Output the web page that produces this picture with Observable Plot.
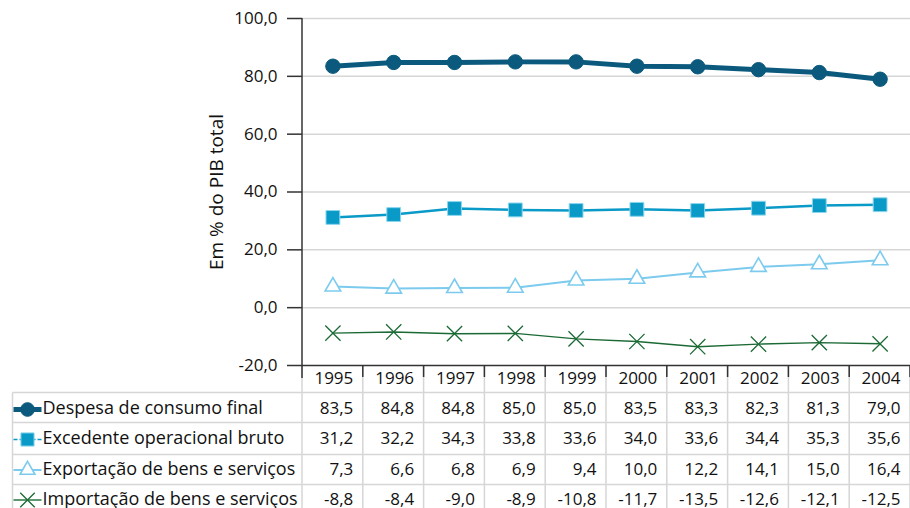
<!DOCTYPE html>
<html>
<head>
<meta charset="utf-8">
<script src="https://cdn.jsdelivr.net/npm/d3@7"></script>
<script src="https://cdn.jsdelivr.net/npm/@observablehq/plot@0.6"></script>
<style>
  html, body { margin: 0; padding: 0; background: #fff; overflow: hidden; }
  #wrap { position: relative; width: 910px; height: 508px; overflow: hidden; }
  #title { position: absolute; left: 81px; top: -18px; font: bold 16px "Open Sans", sans-serif; white-space: nowrap; color: #222; }
  #chart { position: absolute; left: 0; top: 0; }
</style>
</head>
<body>
<div id="wrap">
  <div id="title">Composição segundo a ótica da renda e da despesa, Brasil, 1995-2004</div>
  <div id="chart"></div>
</div>
<script>
// ---- data ----
const years = [1995, 1996, 1997, 1998, 1999, 2000, 2001, 2002, 2003, 2004];
const seriesNames = [
  "Despesa de consumo final",
  "Excedente operacional bruto",
  "Exportação de bens e serviços",
  "Importação de bens e serviços"
];
const despesa    = [83.5, 84.8, 84.8, 85.0, 85.0, 83.5, 83.3, 82.3, 81.3, 79.0];
const excedente  = [31.2, 32.2, 34.3, 33.8, 33.6, 34.0, 33.6, 34.4, 35.3, 35.6];
const exportacao = [7.3, 6.6, 6.8, 6.9, 9.4, 10.0, 12.2, 14.1, 15.0, 16.4];
const importacao = [-8.8, -8.4, -9.0, -8.9, -10.8, -11.7, -13.5, -12.6, -12.1, -12.5];
const yTicks = [-20, 0, 20, 40, 60, 80, 100];
const yLabel = "Em % do PIB total";

// ---- styles ----
const styles = [
  {values: despesa,    color: "#0b5a7e", lineW: 5,   symbol: "circle",   r: 7.2, fill: "#0b5a7e", stroke: "#0b5a7e", sw: 1,   legendDash: null},
  {values: excedente,  color: "#0a9ac7", lineW: 2.5, symbol: "square",   r: 7.8, fill: "#0a9ac7", stroke: "#8ad6ef", sw: 1,   legendDash: "4,2"},
  {values: exportacao, color: "#7ccbee", lineW: 2,   symbol: "triangle", r: 5.8, fill: "#ffffff", stroke: "#7ccbee", sw: 1.6, legendDash: null},
  {values: importacao, color: "#1b6a35", lineW: 1.4, symbol: "times",    r: 7,   fill: "none",    stroke: "#1b6a35", sw: 1.3, legendDash: null}
];

const locale = d3.formatLocale({decimal: ",", thousands: ".", grouping: [3], currency: ["", ""], minus: "-"});
const fmt = locale.format(".1f");

const W = 910, H = 508;
const mL = 302, mR = 0, mT = 18, mB = 143;
const fs = 17;
const fsLabel = 18;
const fsAxisLabel = 19;
const textColor = "#111";
const textShift = 4.5;
const headerDy = 14;
const rowDy = [44, 74, 104.5, 134.5];
const rowLines = [27.5, 57.5, 89.5, 119.5, 150];

const lineSymbol = {
  draw(ctx) { ctx.moveTo(-14, 0); ctx.lineTo(14, 0); }
};

const marks = [
  Plot.gridY(yTicks.filter(v => v > yTicks[0]), {stroke: "#d6d6d6", strokeOpacity: 1, strokeWidth: 1.5}),
  Plot.axisY(yTicks, {
    tickSize: 15, tickPadding: 10, tickFormat: fmt, fontSize: fs, stroke: "#333", strokeWidth: 1.5,
    fill: textColor, label: yLabel, labelAnchor: "center", labelOffset: 93, labelArrow: "none"
  }),
  Plot.ruleY([yTicks[0]], {stroke: "#333", strokeWidth: 1.5}),
  // year header
  Plot.text(years, {x: d => d + 0.5, frameAnchor: "bottom", dy: headerDy + textShift, dx: -10, textAnchor: "end",
    text: d => String(d), fontSize: fs, fill: textColor})
];

styles.forEach((s, k) => {
  const data = years.map((yr, i) => ({year: yr, value: s.values[i]}));
  marks.push(Plot.line(data, {x: "year", y: "value", stroke: s.color, strokeWidth: s.lineW}));
  marks.push(Plot.dot(data, {x: "year", y: "value", symbol: s.symbol, r: s.r, fill: s.fill, stroke: s.stroke, strokeWidth: s.sw}));
  // table values
  marks.push(Plot.text(data, {x: d => d.year + 0.5, frameAnchor: "bottom", dy: rowDy[k] + textShift, dx: -10, textAnchor: "end",
    text: d => fmt(d.value), fontSize: fs, fill: textColor}));
  // legend label
  marks.push(Plot.text([seriesNames[k]], {frameAnchor: "bottom-left", dx: 42 - mL, dy: rowDy[k] + textShift, textAnchor: "start",
    text: d => d, fontSize: fsLabel, fill: textColor}));
  // legend swatch line + marker
  marks.push(Plot.dot([0], {frameAnchor: "bottom-left", dx: 27 - mL, dy: rowDy[k], symbol: lineSymbol, r: 5,
    stroke: s.color, strokeWidth: k === 0 ? 5 : (k === 1 ? 1.5 : s.lineW), strokeDasharray: s.legendDash, fill: "none"}));
  marks.push(Plot.dot([0], {frameAnchor: "bottom-left", dx: 27 - mL, dy: rowDy[k], symbol: s.symbol, r: s.r * 0.95,
    fill: s.fill, stroke: s.stroke, strokeWidth: s.sw}));
});

const plot = Plot.plot({
  width: W, height: H,
  marginLeft: mL, marginRight: mR, marginTop: mT, marginBottom: mB,
  style: {fontFamily: "'Open Sans', sans-serif", fontSize: fsLabel + "px", color: textColor, background: "#fff"},
  x: {type: "linear", domain: [years[0] - 0.5, years[years.length - 1] + 0.5], axis: null},
  y: {domain: [yTicks[0], yTicks[yTicks.length - 1]]},
  marks
});
document.getElementById("chart").appendChild(plot);

// axis label: ensure plain text (no arrow) and slightly larger size
d3.select(plot).selectAll("text").each(function() {
  const t = this.textContent;
  if (t.includes(yLabel)) {
    if (t !== yLabel) this.textContent = yLabel;
    d3.select(this).attr("font-size", fsAxisLabel).style("font-size", fsAxisLabel + "px");
  }
});

// ---- table grid (drawn with the plot's own scales) ----
const xs = plot.scale("x"), ys = plot.scale("y");
const svg = d3.select(plot);
const bottom = ys.apply(yTicks[0]);
const g = svg.insert("g", ":first-child").attr("class", "table-grid");
const gridColor = "#d6d6d6";
const bounds = [years[0] - 0.5, ...years.map(y => y + 0.5)];
rowLines.forEach(o => {
  g.append("line").attr("x1", 12.5).attr("x2", W).attr("y1", bottom + o).attr("y2", bottom + o)
    .attr("stroke", gridColor).attr("stroke-width", 1.5);
});
g.append("line").attr("x1", 12.5).attr("x2", 12.5).attr("y1", bottom + rowLines[0]).attr("y2", H)
  .attr("stroke", gridColor).attr("stroke-width", 1.5);
bounds.forEach(b => {
  g.append("line").attr("x1", xs.apply(b)).attr("x2", xs.apply(b)).attr("y1", bottom).attr("y2", H)
    .attr("stroke", gridColor).attr("stroke-width", 1.5);
});
const g2 = svg.append("g").attr("class", "axis-lines");
g2.append("line").attr("x1", xs.apply(bounds[0])).attr("x2", xs.apply(bounds[0]))
  .attr("y1", ys.apply(yTicks[yTicks.length - 1])).attr("y2", bottom + 13)
  .attr("stroke", "#333").attr("stroke-width", 1.5);
bounds.slice(1).forEach(b => {
  g2.append("line").attr("x1", xs.apply(b)).attr("x2", xs.apply(b)).attr("y1", bottom).attr("y2", bottom + 12)
    .attr("stroke", "#333").attr("stroke-width", 1.5);
});
</script>
</body>
</html>
